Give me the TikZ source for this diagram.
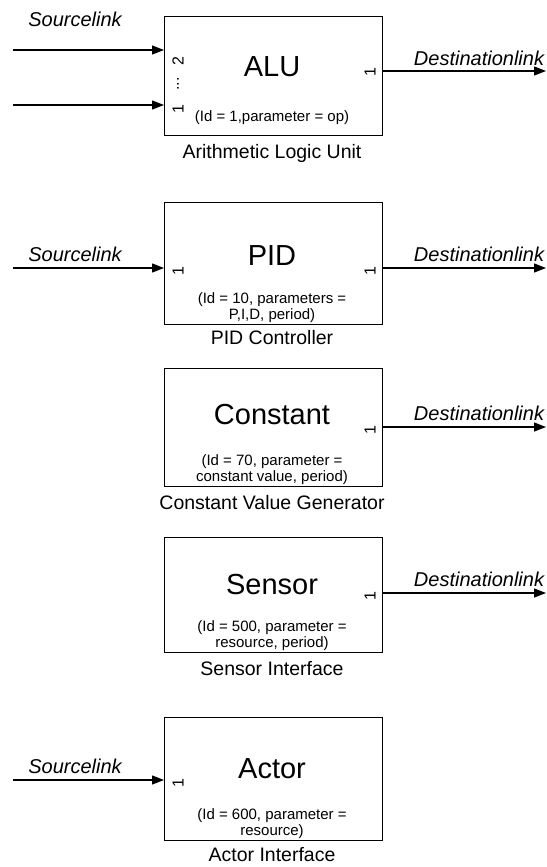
\documentclass[tikz,border=0pt]{standalone}
\usepackage{fontspec}
\setmainfont{Liberation Sans}
\usetikzlibrary{arrows.meta}
\newcommand{\fname}{\fontsize{29}{33}\selectfont}
\newcommand{\flink}{\fontsize{20}{22}\selectfont\itshape}
\newcommand{\fparam}{\fontsize{15}{16.5}\selectfont}
\newcommand{\flabel}{\fontsize{19.5}{22}\selectfont}
\newcommand{\fport}{\fontsize{16}{17}\selectfont}
\tikzset{
  blockbox/.style={draw, line width=1pt, anchor=north west, minimum width=218pt, inner sep=0pt, outer sep=0pt},
  link/.style={line width=1.3pt, -{Triangle[length=12pt,width=9pt]}},
  nametext/.style={font=\fname, inner sep=0pt},
  linktext/.style={font=\flink, inner sep=0pt},
  paramtext/.style={font=\fparam, align=center, inner sep=0pt},
  labeltext/.style={font=\flabel, inner sep=0pt},
  porttext/.style={font=\fport, inner sep=0pt, rotate=90},
}
\begin{document}
\begin{tikzpicture}[x=1pt,y=-1pt]
\useasboundingbox (0,0) rectangle (546,867);

% ---------- ALU ----------
\node[blockbox, minimum height=118pt] (alu) at (164,17) {};
\node[nametext] (alun) at (272,67) {ALU};
\node[paramtext] (alup) at (272,118) {(Id = 1,parameter = op)};
\node[labeltext] (alul) at (272,153) {Arithmetic Logic Unit};
\coordinate (aluin2) at (13,50);
\coordinate (aluin1) at (13,105);
\coordinate (aluout) at (546,71);
\draw[link] (aluin2) -- (aluin2 -| alu.west);
\draw[link] (aluin1) -- (aluin1 -| alu.west);
\draw[link] (alu.east |- aluout) -- (aluout);
\node[linktext] (alusrc) at (75,19) {Sourcelink};
\node[linktext] (aludst) at (479,58) {Destinationlink};
\node[porttext] (alup2) at (178,61) {2};
\node[porttext] (alupd) at (178,84) {...};
\node[porttext] (alup1) at (178,109) {1};
\node[porttext] (aluo1) at (370,72) {1};

% ---------- PID ----------
\node[blockbox, minimum height=122pt] (pid) at (164,202) {};
\node[nametext] (pidn) at (272,256) {PID};
\node[paramtext, anchor=south] (pidp) at (272,323) {(Id = 10, parameters =\\P,I,D, period)};
\node[labeltext] (pidl) at (272,338) {PID Controller};
\coordinate (pidin) at (13,268);
\coordinate (pidout) at (546,268);
\draw[link] (pidin) -- (pidin -| pid.west);
\draw[link] (pid.east |- pidout) -- (pidout);
\node[linktext] (pidsrc) at (75,254) {Sourcelink};
\node[linktext] (piddst) at (479,254) {Destinationlink};
\node[porttext] (pidp1) at (178,271) {1};
\node[porttext] (pido1) at (370,271) {1};

% ---------- Constant ----------
\node[blockbox, minimum height=118pt] (con) at (164,368) {};
\node[nametext] (conn) at (272,415) {Constant};
\node[paramtext, anchor=south] (conp) at (272,485) {(Id = 70, parameter =\\constant value, period)};
\node[labeltext] (conl) at (272,503) {Constant Value Generator};
\coordinate (conout) at (546,427);
\draw[link] (con.east |- conout) -- (conout);
\node[linktext] (condst) at (479,413) {Destinationlink};
\node[porttext] (cono1) at (370,430) {1};

% ---------- Sensor ----------
\node[blockbox, minimum height=115pt] (sen) at (164,537) {};
\node[nametext] (senn) at (272,585) {Sensor};
\node[paramtext, anchor=south] (senp) at (272,651) {(Id = 500, parameter =\\resource, period)};
\node[labeltext] (senl) at (272,669) {Sensor Interface};
\coordinate (senout) at (546,593);
\draw[link] (sen.east |- senout) -- (senout);
\node[linktext] (sendst) at (479,579) {Destinationlink};
\node[porttext] (seno1) at (370,596) {1};

% ---------- Actor ----------
\node[blockbox, minimum height=123pt] (act) at (164,717) {};
\node[nametext] (actn) at (272,769) {Actor};
\node[paramtext, anchor=south] (actp) at (272,839) {(Id = 600, parameter =\\resource)};
\node[labeltext] (actl) at (272,855) {Actor Interface};
\coordinate (actin) at (13,780);
\draw[link] (actin) -- (actin -| act.west);
\node[linktext] (actsrc) at (75,766) {Sourcelink};
\node[porttext] (actp1) at (178,783) {1};
\end{tikzpicture}
\end{document}
